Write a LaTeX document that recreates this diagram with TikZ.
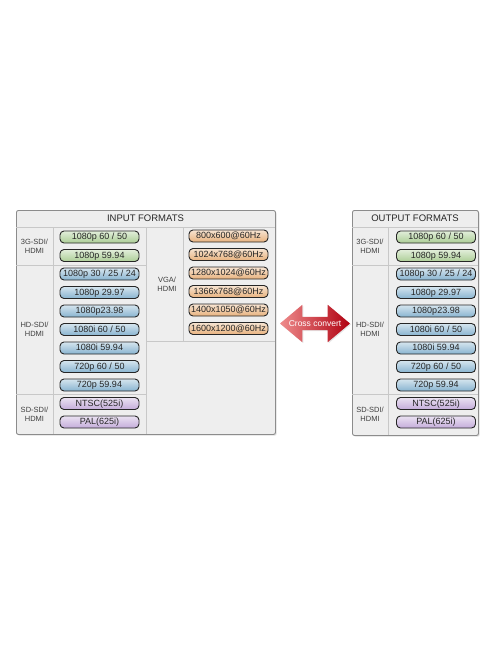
\documentclass[tikz,border=0pt]{standalone}
\usepackage{fontspec}
\setmainfont{Liberation Sans}
\usetikzlibrary{positioning,shapes.arrows,shadows}
\definecolor{panelgray}{RGB}{238,238,238}
\definecolor{framegray}{RGB}{140,140,140}
\definecolor{linegray}{RGB}{200,200,200}
\definecolor{pillgreen}{RGB}{172,206,150}
\definecolor{pillblue}{RGB}{136,180,208}
\definecolor{pillpurple}{RGB}{196,172,218}
\definecolor{pilltan}{RGB}{232,178,126}
\definecolor{convpink}{RGB}{238,140,140}
\definecolor{convred}{RGB}{214,34,44}
\definecolor{convdark}{RGB}{176,0,16}

\begin{document}
\begin{tikzpicture}[
    x=1pt, y=-1pt,
    node distance=5.6pt,
    panel/.style={rectangle, draw=framegray, line width=0.9pt, fill=panelgray, rounded corners=2pt, anchor=north west, inner sep=0pt, drop shadow={opacity=0.25, shadow xshift=1.2pt, shadow yshift=-1.2pt}},
    pill/.style={rectangle, rounded corners=4pt, draw=black!85, line width=0.9pt, minimum width=79pt, minimum height=12pt, inner sep=0pt, text height=6.6pt, text depth=1.6pt, font=\fontsize{9}{9}\selectfont, text=black!85},
    green pill/.style={pill, top color=pillgreen!35, bottom color=pillgreen},
    blue pill/.style={pill, top color=pillblue!35, bottom color=pillblue},
    purple pill/.style={pill, top color=pillpurple!35, bottom color=pillpurple},
    tan pill/.style={pill, top color=pilltan!35, bottom color=pilltan},
    divider/.style={draw=linegray, line width=0.6pt},
    iflabel/.style={align=center, font=\fontsize{7.5}{9}\selectfont, text=black!75},
    headtext/.style={font=\fontsize{9.5}{10}\selectfont, text=black!85}
]
\useasboundingbox (0,0) rectangle (500,650);

% input panel
\node[panel, minimum width=259pt, minimum height=224pt] (inpanel) at (16,210) {};
\node[headtext] (inhead) at (145.5,218.5) {INPUT FORMATS};
\draw[divider] (16,227) -- (275,227);
\draw[divider] (53,227) -- (53,434);
\draw[divider] (146,227) -- (146,434);
\draw[divider] (183,227) -- (183,341);
\draw[divider] (146,341) -- (275,341);
\draw[divider] (16,265) -- (146,265);
\draw[divider] (16,394) -- (146,394);

\node[iflabel] (in3g) at (34.5,246) {3G-SDI/\\HDMI};
\node[iflabel] (inhd) at (34.5,329.5) {HD-SDI/\\HDMI};
\node[iflabel] (insd) at (34.5,414) {SD-SDI/\\HDMI};
\node[iflabel] (invga) at (167,284) {VGA/\\HDMI};

\node[green pill] (in1) at (99.5,237) {1080p 60 / 50};
\node[green pill, below=of in1] (in2) {1080p 59.94};
\node[blue pill, below=of in2] (in3) {1080p 30 / 25 / 24};
\node[blue pill, below=of in3] (in4) {1080p 29.97};
\node[blue pill, below=of in4] (in5) {1080p23.98};
\node[blue pill, below=of in5] (in6) {1080i 60 / 50};
\node[blue pill, below=of in6] (in7) {1080i 59.94};
\node[blue pill, below=of in7] (in8) {720p 60 / 50};
\node[blue pill, below=of in8] (in9) {720p 59.94};
\node[purple pill, below=of in9] (in10) {NTSC(525i)};
\node[purple pill, below=of in10] (in11) {PAL(625i)};

\node[tan pill] (vga1) at (228.5,236) {800x600@60Hz};
\node[tan pill, below=of vga1] (vga2) {1024x768@60Hz};
\node[tan pill, below=of vga2] (vga3) {1280x1024@60Hz};
\node[tan pill, below=of vga3] (vga4) {1366x768@60Hz};
\node[tan pill, below=of vga4] (vga5) {1400x1050@60Hz};
\node[tan pill, below=of vga5] (vga6) {1600x1200@60Hz};

% conversion arrow
\node[double arrow, double arrow head extend=12pt, double arrow tip angle=80, minimum height=70pt, inner sep=0pt, text height=13pt, left color=convpink, middle color=convred, right color=convdark, drop shadow={opacity=0.2, shadow xshift=1pt, shadow yshift=-1pt}] (conv) at (315,323.5) {};
\node[font=\fontsize{8.5}{9}\selectfont, text=white] (convtext) at (conv.center) {Cross convert};

% output panel
\node[panel, minimum width=126pt, minimum height=225pt] (outpanel) at (352,210) {};
\node[headtext] (outhead) at (415,218.5) {OUTPUT FORMATS};
\draw[divider] (352,227) -- (478,227);
\draw[divider] (388,227) -- (388,435);
\draw[divider] (352,265) -- (478,265);
\draw[divider] (352,394) -- (478,394);

\node[iflabel] (out3g) at (370,246) {3G-SDI/\\HDMI};
\node[iflabel] (outhd) at (370,329.5) {HD-SDI/\\HDMI};
\node[iflabel] (outsd) at (370,414) {SD-SDI/\\HDMI};

\node[green pill] (out1) at (436,237) {1080p 60 / 50};
\node[green pill, below=of out1] (out2) {1080p 59.94};
\node[blue pill, below=of out2] (out3) {1080p 30 / 25 / 24};
\node[blue pill, below=of out3] (out4) {1080p 29.97};
\node[blue pill, below=of out4] (out5) {1080p23.98};
\node[blue pill, below=of out5] (out6) {1080i 60 / 50};
\node[blue pill, below=of out6] (out7) {1080i 59.94};
\node[blue pill, below=of out7] (out8) {720p 60 / 50};
\node[blue pill, below=of out8] (out9) {720p 59.94};
\node[purple pill, below=of out9] (out10) {NTSC(525i)};
\node[purple pill, below=of out10] (out11) {PAL(625i)};
\end{tikzpicture}
\end{document}
